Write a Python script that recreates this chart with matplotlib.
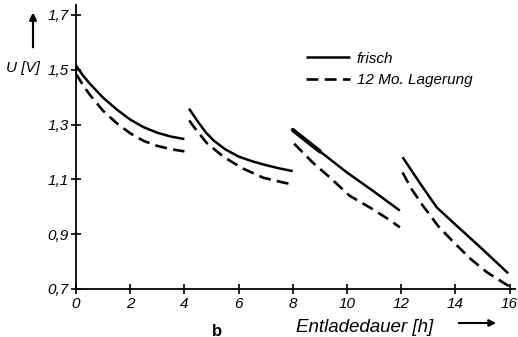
import matplotlib
matplotlib.use('Agg')
import matplotlib.pyplot as plt
from matplotlib.lines import Line2D

plt.rcParams['font.family'] = ['Liberation Sans', 'DejaVu Sans']
plt.rcParams['font.style'] = 'italic'

# ---------- Daten ---------- #
# frisch, 4 Entladeabschnitte
t_f1 = [0.0, 0.25, 0.5, 1.0, 1.5, 2.0, 2.5, 3.0, 3.5, 4.0]
u_f1 = [1.515, 1.48, 1.45, 1.398, 1.355, 1.318, 1.29, 1.27, 1.256, 1.247]
t_f2 = [4.17, 4.5, 4.8, 5.1, 5.5, 6.0, 6.5, 7.0, 7.5, 8.0]
u_f2 = [1.358, 1.31, 1.27, 1.24, 1.21, 1.183, 1.166, 1.152, 1.14, 1.13]
t_f3 = [8.0, 9.0, 10.0, 11.0, 11.95]
u_f3 = [1.28, 1.202, 1.125, 1.055, 0.986]
t_f4 = [12.05, 12.7, 13.31, 14.0, 15.0, 15.95]
u_f4 = [1.181, 1.085, 0.998, 0.935, 0.845, 0.757]

# 12 Monate Lagerung
t_l1 = [0.0, 0.25, 0.5, 1.0, 1.5, 2.0, 2.5, 3.0, 3.5, 4.0]
u_l1 = [1.485, 1.445, 1.41, 1.35, 1.305, 1.268, 1.24, 1.222, 1.21, 1.202]
t_l2 = [4.18, 4.33, 4.82, 5.46, 6.17, 6.91, 7.71, 8.02]
u_l2 = [1.315, 1.294, 1.233, 1.181, 1.139, 1.106, 1.087, 1.082]
t_l3 = [8.05, 8.75, 9.37, 10.1, 10.85, 11.6, 11.95]
u_l3 = [1.23, 1.16, 1.107, 1.04, 0.997, 0.95, 0.925]
t_l4 = [12.05, 12.38, 12.8, 13.37, 13.95, 14.56, 15.15, 15.9, 16.2]
u_l4 = [1.125, 1.065, 1.004, 0.929, 0.869, 0.81, 0.762, 0.715, 0.70]

x_ticks = [0, 2, 4, 6, 8, 10, 12, 14, 16]
y_ticks = [0.7, 0.9, 1.1, 1.3, 1.5, 1.7]
y_labels = ['0,7', '0,9', '1,1', '1,3', '1,5', '1,7']

# ---------- Plot ---------- #
fig = plt.figure(figsize=(5.18, 3.37), dpi=100)
ax = fig.add_axes([76 / 518, 1 - 289 / 337, (515 - 76) / 518, (289 - 5) / 337])

solid = dict(color='black', lw=1.8, solid_capstyle='butt')
dashed = dict(color='black', lw=1.9, linestyle=(0, (4.5, 2.4)), dash_capstyle='butt')

for t, u in [(t_f1, u_f1), (t_f2, u_f2), (t_f3, u_f3), (t_f4, u_f4)]:
    ax.plot(t, u, **solid)
# dicker Anfang im 3. Abschnitt
ax.plot(t_f3[:2], u_f3[:2], color='black', lw=3.0, solid_capstyle='round')
for t, u in [(t_l1, u_l1), (t_l2, u_l2), (t_l3, u_l3), (t_l4, u_l4)]:
    ax.plot(t, u, **dashed)

ax.set_xlim(0, 16.2)
ax.set_ylim(0.7, 1.736)
for s in ['top', 'right']:
    ax.spines[s].set_visible(False)
for s in ['left', 'bottom']:
    ax.spines[s].set_linewidth(1.3)
ax.set_xticks(x_ticks)
ax.set_xticklabels([str(v) for v in x_ticks])
ax.set_yticks(y_ticks)
ax.set_yticklabels(y_labels)
ax.tick_params(direction='inout', length=7, width=1.2, labelsize=11, pad=2)
ax.patch.set_alpha(0)
for lab in ax.get_xticklabels() + ax.get_yticklabels():
    lab.set_style('italic')

# Legende
handles = [Line2D([], [], **solid), Line2D([], [], **dashed)]
fig.legend(handles, ['frisch', '12 Mo. Lagerung'], loc='upper left',
           bbox_to_anchor=(292 / 518, 1 - 38 / 337), frameon=False,
           handlelength=2.9, handletextpad=0.45,
           labelspacing=0.5, prop={'style': 'italic', 'size': 11})

# Achsenbeschriftungen mit Pfeilen
fig.text(6 / 518, 1 - 68 / 337, 'U [V]', fontsize=11, style='italic', va='center', ha='left')
fig.add_artist(plt.annotate('', xy=(33 / 518, 1 - 10 / 337), xytext=(33 / 518, 1 - 50 / 337),
                            xycoords='figure fraction',
                            arrowprops=dict(arrowstyle='-|>', color='black', lw=1.5,
                                            mutation_scale=10)))
fig.text(296 / 518, 1 - 327 / 337, 'Entladedauer [h]', fontsize=13.5, style='italic',
         va='center', ha='left')
ax.annotate('', xy=(499 / 518, 1 - 323 / 337), xytext=(456 / 518, 1 - 323 / 337),
            xycoords='figure fraction',
            arrowprops=dict(arrowstyle='-|>', color='black', lw=1.5, mutation_scale=10),
            annotation_clip=False)
fig.text(217 / 518, 1 - 331 / 337, 'b', fontsize=12, weight='bold', style='normal',
         va='center', ha='center')

fig.savefig('out.png', dpi=100)
